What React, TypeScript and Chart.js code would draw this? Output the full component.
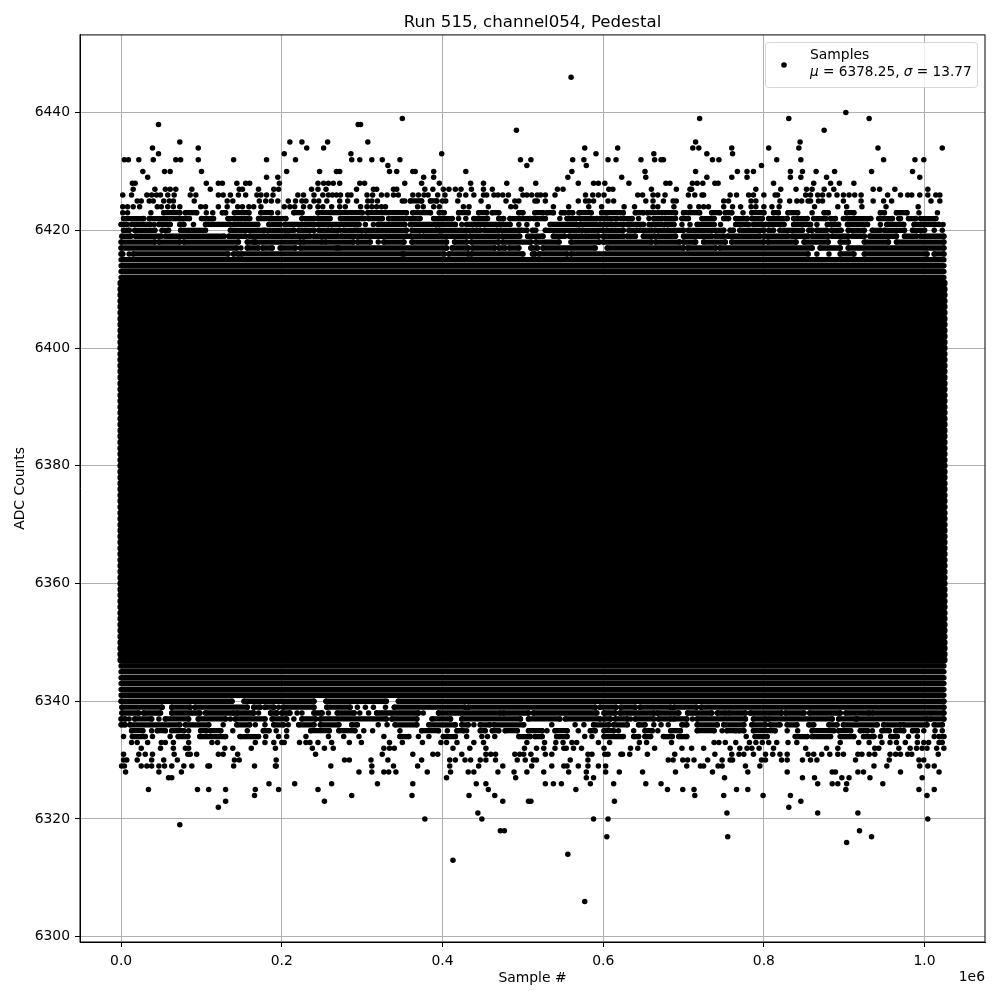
import React, { useEffect, useRef } from "react";
import { Chart, registerables } from "chart.js";

Chart.register(...registerables);

const chartTitle = "Run 515, channel054, Pedestal";
const xAxisTitle = "Sample #";
const yAxisTitle = "ADC Counts";
const xOffsetLabel = "1e6";
const legendLine1 = "Samples";
const legendParts: [string, boolean][] = [["μ", true], [" = 6378.25, ", false], ["σ", true], [" = 13.77", false]];

const xTicks = [0, 200000, 400000, 600000, 800000, 1000000];
const yTicks = [6300, 6320, 6340, 6360, 6380, 6400, 6420, 6440];

const sampleStartK = 0;
const sampleEndK = 1024;

// Rows where the dots merge into a solid block
const solidRows = [
  6347, 6348, 6349, 6350, 6351, 6352, 6353, 6354, 6355, 6356, 6357, 6358, 6359, 6360, 6361, 6362,
  6363, 6364, 6365, 6366, 6367, 6368, 6369, 6370, 6371, 6372, 6373, 6374, 6375, 6376, 6377, 6378,
  6379, 6380, 6381, 6382, 6383, 6384, 6385, 6386, 6387, 6388, 6389, 6390, 6391, 6392, 6393, 6394,
  6395, 6396, 6397, 6398, 6399, 6400, 6401, 6402, 6403, 6404, 6405, 6406, 6407, 6408, 6409, 6410, 6411,
];
// Rows full across the run, with a thin gap still showing between them
const fullRows = [6341, 6342, 6343, 6344, 6345, 6346, 6412, 6413, 6414, 6415];

type Run = number | [number, number];
type Row = [number, Run[]];

// Sample number in thousands; a pair is a run of touching dots
const upperRows: Row[] = [
  [6446, [560]],
  [6440, [902]],
  [6439, [350, 720, 831, 931]],
  [6438, [46.5, 295, 298]],
  [6437, [492, 875]],
  [6435, [73, 210, 225, 257, 307, 715, 845]],
  [6434, [39, 96, 231, 252, 577, 618, 711.5, 719, 760, 806, 843.5, 942, 1022]],
  [6433, [46.5, 203, 286, 399, 591, 663, 729, 761]],
  [6432, [4, 9, 22, 40, 68, 74, 96, 140, 181, 217, 287, 297, 312, 325, 347, 497, 510, 562, 576, 606, 616, 647, 664, 672, 675, 736, 744, 816, 846, 949, 988, 999]],
  [6431, [332, 505, 579, 797]],
  [6430, [27, 54, 61, 100, 206, 247, 268, 272, 334, 343, 363, 366, 389, 429, 561, 652, 715, 767, 779, 787, 833, 848, 865, 888, 934, 985]],
  [6429, [33, 181, 195, 376.5, 389, 556, 623, 653, 729, 760, 779, 833, 846, 878, 994]],
  [6428, [14, 17.5, 106, 121, 126, 144, 155, 160, 197, 245, 252, 258, 264, 272, 297, 303, 353, 374, 396, 435, 451, 480, 516, 569, 588, 594, 602, 632, 678, 683, 711, 717, 724, 739, 743, 812, 862, 883, 894, 912]],
  [6427, [15, 42, 55, 61, 68, 88, 111, 147, 151, 171, 190, 196, 237, 245, 255, 293, 314, 318, 339, 343, 378, 388, 401, 408, 416, 423, 436, 451, 462, 498, 543, 550, 607, 612, 660, 691, 708, 710, 790, 821, 840, 853, 860, 875, 887, 936, 944, 963, 1004]],
  [6426, [2, 13, 32, 38, 44, 49, 58, 66, 86, 93, 121, 127, 136, 146, 155, 169, 174, 181, 189, 220, 227, 240, 251, 258, 263, 268, 273, 282, 286, 306, 313, 324, 331, 339, 345, 363, 370, 377, 382, 394, 403, 421, 429, 439, 451, 455, 464, 469, 475, 482, 500, 505, 511, 518, 522, 528, 540, 578, 587, 594, 601, 643, 649, 662, 668, 677, 706, 714, 723, 725, 758, 766, 781, 787, 800, 814, 817, 852, 858, 867, 873, 881, 891, 899, 906, 913, 921, 954, 970, 979, 984, 994, 1004, 1014, 1019]],
  [6425, [20, 25, 35, 40, 53, 60, 65, 91, 132, 139, 172, 180, 187, 195, 208, 217, 225, 230, 240, 246, 256, 272, 282, 293, 307, 312, 319, 350, 353, [360, 374], [385, 393], 400, 404, 419, 448, 479, 490, 495, 515, 518, 528, 569, 578, 582, 588, 606, 613, 653, 662, 675, 687, 691, 750, 756, 784, 790, 820, 832, 841, 847, 855, 858, 868, 873, 899, 921, 936, 949, 959, 1008, 1019]],
  [6424, [2, 8, 15, 23, 45, 50, 58, 65, 73, 99, 105, 121, 132, 145, 151, 159, 165, 174, 203, 210, 216, 227, 235, 245, 251, 262, 272, 279, 298, 306, 312, 318, 324, 329, 369, 376, 389, 396, 426, 433, 457, 485, 491, 538, 557, 582, 598, 626, 639, 662, 668, 688, 708, 719, 725, 731, 750, 761, 771, 784, 790, 800, 810, 819, 863, 892, 903, 922, 952, 992]],
  [6423, [2, 8, 37, [53, 73], [80, 94], 106, 114, [126, 130], [141, 159], [174, 187], 195, [215, 225], [245, 300], [307, 355], [363, 385], [396, 402], [420, 432], [445, 455], [462, 470], [495, 500], [515, 525], [530, 538], [548, 552], [557, 562], [570, 585], [598, 603], [605, 625], [640, 650], [655, 690], [700, 720], [735, 745], [752, 760], 774, [785, 800], [812, 818], [830, 842], 860, [875, 880], [903, 912], [945, 950], [965, 978], 993, 1016]],
  [6422, [[3, 28], [35, 85], [100, 115], [133, 150], [153, 160], [171, 205], [225, 240], [245, 260], [273, 303], [308, 325], [333, 372], [389, 412], 420, 429, [439, 456], [470, 476], [484, 509], [513, 528], 546, [555, 567], [571, 592], [596, 617], 622, [626, 636], 644, 657, [663, 673], [677, 690], [698, 706], [723, 738], [750, 756], [765, 779], [785, 798], [806, 829], [837, 854], [862, 877], [883, 889], [899, 933], [943, 960], [968, 970], [980, 989], [995, 1014]]],
  [6421, [[0, 7], [13, 36], 41, [47, 61], [73, 78], 90, [105, 136], [140, 170], [184, 198], [204, 225], [229, 296], 304, 314, [320, 353], [360, 393], [395, 416], 424, [430, 484], 495, 505, 518, [534, 567], [571, 596], [601, 611], [615, 625], [630, 650], 657, [661, 688], 698, 708, [717, 738], 746, [765, 781], [787, 798], [802, 825], [837, 858], 866, [879, 893], [904, 929], 945, [953, 974], [987, 1018], 1023]],
  [6420, [[3, 10], [17, 42], [51, 59], [74, 105], [136, 177], [179, 215], [221, 240], [246, 258], [262, 272], [277, 291], [294, 355], [362, 392], [396, 438], [442, 447], [452, 468], [472, 495], [498, 505], [512, 516], [528, 570], [574, 600], [604, 625], [632, 642], [646, 660], [664, 676], [680, 700], [706, 750], [758, 762], [770, 800], [806, 812], [820, 848], [856, 860], [866, 878], [884, 896], [905, 925], [935, 945], [950, 975], [985, 1000], 1012, 1022]],
  [6419, [[1, 12], [18, 50], [55, 128], [134, 155], [160, 178], [182, 205], [208, 235], [240, 270], [274, 300], [304, 356], [360, 372], [376, 396], [398, 430], [434, 470], [474, 496], [506, 525], [538, 552], [558, 574], [578, 594], [600, 625], [630, 640], [650, 664], [668, 690], [700, 735], [740, 750], [755, 795], [800, 830], [835, 855], [860, 880], [885, 905], [910, 925], [932, 965], [975, 990], [995, 1024]]],
  [6418, [[0, 42], [47, 73], [78, 146], [157, 165], [167, 223], [227, 250], [254, 289], [294, 310], 320, [327, 352], [362, 405], [415, 430], [436, 470], [475, 510], [516, 545], [560, 595], [600, 660], [665, 695], [700, 715], [725, 752], [760, 800], [805, 840], [850, 880], [895, 905], [925, 955], [965, 1024]]],
  [6417, [[0, 144], 149, [157, 171], [176, 188], [198, 217], [223, 268], [271, 405], [412, 432], [437, 465], [470, 478], [483, 495], [510, 518], [525, 590], [605, 700], [705, 740], [745, 860], [870, 895], [905, 1024]]],
  [6416, [[0, 2], 10, [15, 133], [140, 146], [150, 350], [352, 402], [408, 432], [436, 500], [512, 515], [520, 555], [560, 855], 866, 881, [895, 912], [925, 1003], [1012, 1024]]],
];

const lowerRows: Row[] = [
  [6340, [[0, 138], [153, 240], [255, 330], [345, 1024]]],
  [6339, [[1, 51], [63, 86], [92, 157], [165, 173], [179, 190], 196, [202, 240], [256, 285], 294, 304, 314, 329, [340, 428], [432, 590], [596, 616], [622, 640], [646, 684], [688, 716], [722, 1024]]],
  [6338, [[1, 22], [28, 49], [63, 98], [105, 140], [144, 165], 171, [186, 194], [200, 210], 219, 225, [240, 250], 258, [269, 290], 297, 308, [318, 370], 376, [395, 472], [476, 507], [513, 592], [601, 615], [621, 663], [667, 694], [705, 735], [742, 752], [756, 777], [783, 822], [827, 850], [857, 895], [902, 931], [935, 1024]]],
  [6337, [[0, 5], 10, [17, 38], 47, [55, 84], [96, 130], 136, [142, 179], [188, 206], 215, [225, 242], [248, 330], [337, 368], [387, 410], [424, 497], [507, 546], [553, 596], [601, 609], [615, 630], 634, [640, 663], [669, 684], [688, 704], 711, [717, 777], [787, 802], [806, 885], [893, 914], [916, 1003], [1007, 1024]]],
  [6336, [[0, 5], [11, 73], [80, 109], 127, [144, 160], 167, 179, [190, 202], 208, [221, 240], [248, 271], [287, 294], 320, 331, [341, 368], [383, 416], [424, 432], 439, [447, 459], [464, 501], 536, 565, 576, [588, 607], [613, 630], [644, 652], 663, 672, 681, [698, 704], [717, 742], [750, 775], [785, 802], [808, 820], [829, 841], [856, 862], [881, 891], [899, 941], [949, 970], [974, 1003], [1012, 1022]]],
  [6335, [[13, 27], 38, [45, 55], [63, 78], 84, [99, 106], [111, 124], 139, 157, [177, 184], 193, 206, [236, 259], [271, 291], 302, 313, 347, [374, 395], 406, [418, 426], 430, [447, 453], [462, 470], [478, 493], [507, 524], 530, [540, 555], 569, [584, 590], [601, 613], 619, 638, [652, 661], 668, [684, 696], [717, 738], 748, [754, 765], [769, 775], [787, 814], 829, 842, [860, 887], [893, 908], [920, 929], 935, [947, 956], [964, 974], [985, 991], 999, 1013, 1022]],
  [6334, [3, [14, 30], 39, 61, [71, 83], [98, 130], [148, 171], 180, 196, 206, 230, 258, 277, 296, 327, [347, 358], 370, 383, [401, 416], 430, 449, 456, 465, [495, 509], [515, 524], [542, 555], 577, 586, [601, 625], [638, 644], [652, 659], [675, 686], [694, 704], 778, [789, 804], [839, 854], [860, 883], [895, 912], [924, 937], 945, [958, 966], 980, 991, 1012, [1018, 1024]]],
  [6333, [13, 20, 33, 50, 55, 65, 84, 113, 120, 167, 179, 190, 200, 203, 222, 230, 235, 245, 262, 284, 299, 334, 350, 375, 398, 405, 418, 439, 451, 505, 527, 541, 550, 561, 567, 594, 608, 645, 654, 685, 738, 744, 752, 765, 782, 790, 798, 806, 816, 830, 841, 895, 918, 931, 947, 957, 965, 976, 991, 999, 1005, 1018, 1022]],
  [6332, [25, 49, 65, 80, 84, 129, 139, 162, 192, 238, 253, 264, 327, 334, 340, 413, 434, 454, 502, 517, 526, 540, 551, 554, 563, 573, 601, 634, 643, 664, 698, 710, 725, 758, 770, 779, 785, 794, 812, 852, 878, 892, 938, 943, 968, 982, 990, 997, 1003, 1015, 1024]],
  [6331, [3, 22, 30, 39, 66, 83, 86, 94, 121, 127, 145, 242, 325, 363, 388, 394, 424, 454, 460, 466, 490, 496, 501, 510, 528, 536, 581, 586, 602, 606, 622, 624, 633, 655, 689, 739, 760, 769, 775, 787, 802, 811, 820, 829, 855, 862, 872, 882, 892, 899, 917, 922, 931, 938, 957, 964, 970, 979, 984, 1017]],
  [6330, [3, 7, 20, 38, 53, 70, 141, 147, 193, 278, 284, 311, 332, 374, 409, 416, 428, 435, 447, 454, 466, 493, 503, 513, 517, 559, 581, 681, 687, 699, 705, 713, 730, 748, 758, 761, 797, 802, 822, 829, 848, 858, 866, 914, 956, 993, 999]],
  [6329, [0.5, 4, 25, 32, 38, 47, 54, 63, 78, 88, 108, 110, 140, 166, 192, 193, 261, 312, 339, 369, 409, 445, 475, 511, 536, 551, 555, 569, 581, 594, 603, 704, 721, 725, 743, 748, 777, 795, 937, 953, 994, 1004, 1012]],
  [6328, [5.5, 47, 75, 296, 312, 327, 333, 342, 381, 410, 432, 439, 469, 489, 505, 526, 557, 579, 603, 620, 649, 690, 736, 780, 829, 885, 889, 917, 924, 970, 1018]],
  [6327, [59, 63, 405, 491, 579, 588, 751, 848, 863, 897, 906, 932, 997]],
  [6326, [184, 216, 262, 319, 363, 442, 454, 528, 538, 548, 584, 613, 653, 672, 867, 885, 892, 903, 948]],
  [6325, [34, 95, 109, 130, 167, 196, 245, 457, 566, 680, 699, 713, 766, 780, 902, 993, 1012]],
  [6324, [166, 287, 362, 433, 465, 714, 750, 799, 833, 1003]],
  [6323, [130, 253, 475, 507, 510, 614, 846]],
  [6322, [121, 831]],
  [6321, [444, 754, 867, 917]],
  [6320, [378, 449, 588, 606, 1004]],
  [6319, [73]],
  [6318, [472, 477, 919]],
  [6317, [604.5, 755, 934]],
  [6316, [903]],
  [6314, [556]],
  [6313, [413]],
  [6306, [577]],
];

const toPoints = (rows: Row[]) =>
  rows.flatMap(([adc, runs]) =>
    runs.flatMap((r) => (Array.isArray(r) ? r : [r]).map((k) => ({ x: k * 1000, y: adc })))
  );

const toLines = (rows: Row[]) =>
  rows.flatMap(([adc, runs]) =>
    runs.flatMap((r) =>
      Array.isArray(r)
        ? [{ x: r[0] * 1000, y: adc }, { x: r[1] * 1000, y: adc }, { x: r[1] * 1000, y: null as number | null }]
        : []
    )
  );

const fullRowLine = (rows: number[]) =>
  rows.flatMap((adc) => [
    { x: sampleStartK * 1000, y: adc as number | null },
    { x: sampleEndK * 1000, y: adc as number | null },
    { x: sampleEndK * 1000, y: null as number | null },
  ]);

const bandStyle = (width: number) => ({
  showLine: true,
  borderColor: "#000",
  backgroundColor: "#000",
  borderWidth: width,
  borderCapStyle: "round" as const,
  borderJoinStyle: "round" as const,
  pointRadius: 0,
  spanGaps: false,
  tension: 0,
});

export default function App() {
  const ref = useRef<HTMLCanvasElement | null>(null);
  useEffect(() => {
    if (!ref.current) return;
    const sans = "'DejaVu Sans'";
    const frameAndLegend = {
      id: "frameAndLegend",
      afterDraw(chart: any) {
        const { ctx, chartArea: a } = chart;
        ctx.save();
        ctx.strokeStyle = "#000";
        ctx.lineWidth = 1;
        ctx.strokeRect(a.left, a.top, a.right - a.left, a.bottom - a.top);

        // legend
        const lx = 765.5, ly = 42.5, lw = 212, lh = 45;
        ctx.beginPath();
        ctx.roundRect(lx, ly, lw, lh, 3);
        ctx.fillStyle = "rgba(255,255,255,0.8)";
        ctx.fill();
        ctx.strokeStyle = "rgba(204,204,204,0.8)";
        ctx.stroke();
        ctx.fillStyle = "#000";
        ctx.beginPath();
        ctx.arc(784, 65, 2.8, 0, Math.PI * 2);
        ctx.fill();
        ctx.textBaseline = "alphabetic";
        ctx.textAlign = "left";
        ctx.font = `13.9px ${sans}`;
        ctx.fillText(legendLine1, 810, 59);
        let tx = 810;
        for (const [part, italic] of legendParts) {
          ctx.font = `${italic ? "italic " : ""}13.65px ${sans}`;
          ctx.fillText(part, tx, 76);
          tx += ctx.measureText(part).width;
        }
        ctx.font = `13.9px ${sans}`;
        ctx.textAlign = "right";
        ctx.fillText(xOffsetLabel, 985, 981);
        ctx.restore();
      },
    };
    const chart = new Chart(ref.current, {
      type: "scatter",
      data: {
        datasets: [
          { label: "solid", data: fullRowLine(solidRows), ...bandStyle(7.5) },
          { label: "full", data: fullRowLine(fullRows), ...bandStyle(5.5) },
          { label: "upper runs", data: toLines(upperRows), ...bandStyle(5.3) },
          { label: "lower runs", data: toLines(lowerRows), ...bandStyle(5.3) },
          { label: "upper samples", data: toPoints(upperRows), backgroundColor: "#000", borderColor: "#000", pointRadius: 2.75, pointBorderWidth: 0 },
          { label: "lower samples", data: toPoints(lowerRows), backgroundColor: "#000", borderColor: "#000", pointRadius: 2.75, pointBorderWidth: 0 },
        ],
      } as any,
      options: {
        responsive: false,
        animation: false,
        events: [],
        layout: { padding: { right: 15, top: 0, left: 0, bottom: 0 } },
        plugins: {
          legend: { display: false },
          tooltip: { enabled: false },
          title: {
            display: true,
            text: chartTitle,
            fullSize: false,
            color: "#000",
            font: { family: sans, size: 16.6, weight: "normal" },
            padding: { top: 13, bottom: 2 },
          },
        },
        scales: {
          x: {
            type: "linear",
            min: -51200,
            max: 1075200,
            afterFit: (s: any) => { s.height = 58; },
            afterBuildTicks: (s: any) => { s.ticks = xTicks.map((value) => ({ value })); },
            grid: { color: "#b0b0b0", lineWidth: 1, tickColor: "#000", tickLength: 5 },
            border: { color: "#000", width: 1 },
            ticks: {
              color: "#000",
              font: { family: sans, size: 13.9 },
              maxRotation: 0,
              padding: 6,
              callback: (v: any) => (Number(v) / 1e6).toFixed(1),
            },
            title: {
              display: true,
              text: xAxisTitle,
              color: "#000",
              font: { family: sans, size: 13.9 },
              padding: { top: 13, bottom: 13 },
            },
          },
          y: {
            type: "linear",
            min: 6299.1,
            max: 6453.2,
            afterFit: (s: any) => { s.width = 80; },
            afterBuildTicks: (s: any) => { s.ticks = yTicks.map((value) => ({ value })); },
            grid: { color: "#b0b0b0", lineWidth: 1, tickColor: "#000", tickLength: 5 },
            border: { color: "#000", width: 1 },
            ticks: {
              color: "#000",
              font: { family: sans, size: 13.9 },
              padding: 5,
              callback: (v: any) => String(v),
            },
            title: {
              display: true,
              text: yAxisTitle,
              color: "#000",
              font: { family: sans, size: 13.9 },
              padding: { top: 12, bottom: 12 },
            },
          },
        },
      },
      plugins: [frameAndLegend],
    } as any);
    return () => chart.destroy();
  }, []);
  return (
    <div style={{ position: "absolute", left: 0, top: 0, width: 1000, height: 1000 }}>
      <canvas ref={ref} width={1000} height={1000} style={{ display: "block" }} />
    </div>
  );
}
